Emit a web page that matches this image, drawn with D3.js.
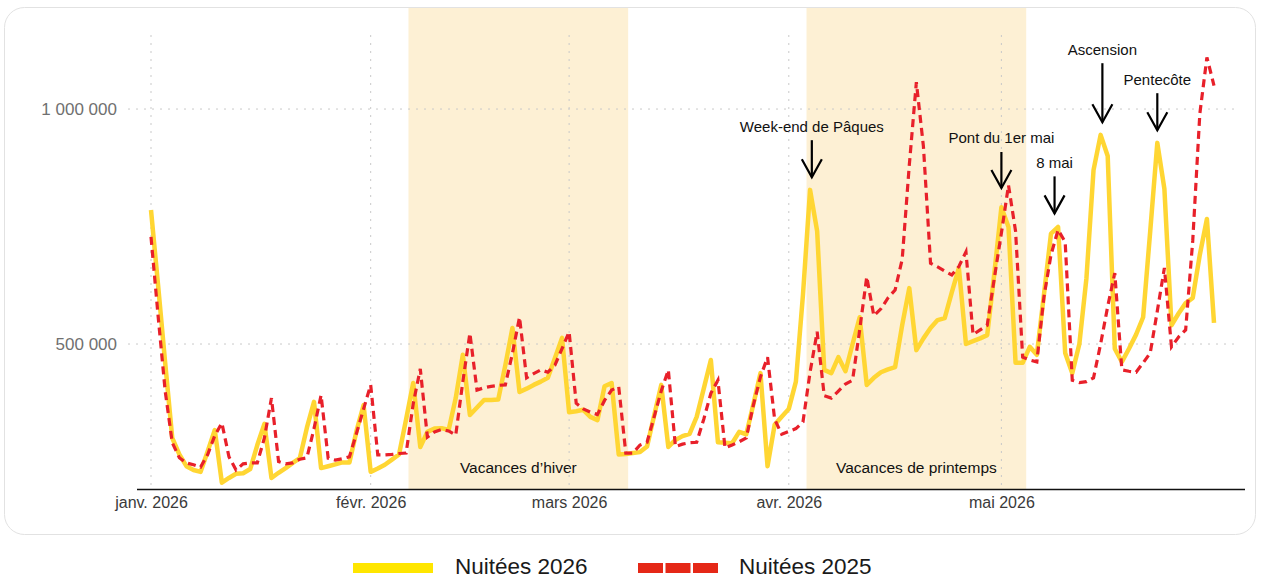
<!DOCTYPE html>
<html lang="fr">
<head>
<meta charset="UTF-8">
<script src="https://cdn.jsdelivr.net/npm/d3@7"></script>
<title>Nuitées 2026 vs 2025</title>
<style>
    body { margin: 0; background: #fff; font-family: "Liberation Sans", Arial, sans-serif; }
    .grid line { stroke: #c9c9c9; stroke-width: 1; stroke-dasharray: 2,6; }
</style>
</head>
<body>
<div id="chart"></div>
<script>
// nuitées journalières, en milliers, du 1er janvier au 31 mai
const nuitees2026 = [
    785, 625, 460, 300, 265, 240, 232, 228, 272, 317,
    205, 215, 224, 225, 234, 285, 330, 215, 226, 236,
    247, 257, 322, 377, 236, 240, 244, 248, 248, 315,
    370, 228, 235, 243, 254, 265, 340, 417, 281, 313,
    320, 321, 317, 385, 477, 349, 365, 381, 381, 382,
    455, 534, 398, 405, 413, 420, 428, 470, 513, 355,
    357, 360, 345, 338, 410, 417, 265, 266, 268, 270,
    282, 348, 413, 281, 296, 304, 309, 345, 405, 466,
    291, 290, 289, 313, 308, 372, 438, 240, 328, 345,
    362, 420, 605, 828, 740, 445, 438, 472, 442, 500,
    557, 413, 428, 440, 446, 451, 540, 619, 487, 512,
    534, 551, 555, 610, 662, 500, 506, 512, 519, 650,
    791, 749, 460, 460, 494, 477, 605, 735, 749, 481,
    438, 500, 640, 870, 945, 900, 490, 462, 490, 520,
    557, 740, 928, 830, 540, 565, 587, 598, 690, 766,
    545
];
const nuitees2025 = [
    728, 560, 400, 290, 258, 247, 243, 238, 265, 305,
    332, 260, 232, 245, 247, 247, 300, 385, 250, 245,
    247, 255, 258, 320, 391, 257, 253, 256, 260, 310,
    362, 413, 264, 264, 265, 267, 268, 373, 447, 302,
    313, 318, 315, 306, 420, 523, 402, 407, 410, 412,
    413, 480, 557, 428, 437, 445, 440, 455, 490, 526,
    374, 362, 355, 350, 380, 402, 409, 268, 268, 285,
    291, 345, 400, 445, 282, 287, 290, 291, 340, 395,
    423, 279, 285, 292, 300, 370, 430, 472, 340, 308,
    314, 320, 334, 440, 526, 390, 385, 400, 415, 423,
    530, 643, 560, 575, 598, 615, 680, 880, 1057, 920,
    672, 664, 655, 647, 665, 696, 520, 530, 540, 640,
    736, 838, 740, 472, 466, 462, 600, 690, 743, 717,
    423, 418, 420, 428, 500, 580, 651, 445, 442, 440,
    460, 481, 570, 662, 494, 515, 530, 720, 990, 1110,
    1050
];

const monthTicks = ["2026-01-01", "2026-02-01", "2026-03-01", "2026-04-01", "2026-05-01"];
const monthLabels = ["janv. 2026", "févr. 2026", "mars 2026", "avr. 2026", "mai 2026"];
const yTicks = [500000, 1000000];

const vacances = [
    { label: "Vacances d\u2019hiver", start: "2026-02-06T08:00Z", end: "2026-03-09T08:00Z" },
    { label: "Vacances de printemps", start: "2026-04-03T12:00Z", end: "2026-05-04T12:00Z" }
];

const annotations = [
    { label: "Week-end de Pâques", date: "2026-04-04T06:00Z", tip: 855000, len: 37 },
    { label: "Pont du 1er mai", date: "2026-05-01T00:00Z", tip: 832000, len: 36 },
    { label: "8 mai", date: "2026-05-08T12:00Z", tip: 778000, len: 37 },
    { label: "Ascension", date: "2026-05-15T06:00Z", tip: 972000, len: 59 },
    { label: "Pentecôte", date: "2026-05-23T00:00Z", tip: 955000, len: 37 }
];

const seriesNames = ["Nuitées 2026", "Nuitées 2025"];

const width = 1261, height = 579;
const start = new Date("2026-01-01T00:00Z");
const days = d3.utcDay.range(start, d3.utcDay.offset(start, nuitees2026.length));

const rows2026 = days.map((d, i) => ({ date: d, value: nuitees2026[i] * 1000 }));
const rows2025 = days.map((d, i) => ({ date: d, value: nuitees2025[i] * 1000 }));

const x = d3.scaleUtc()
    .domain([start, days[days.length - 1]])
    .range([151, 1214]);

const y = d3.scaleLinear()
    .domain([191500, 1215000])
    .range([489, 8]);

const svg = d3.select("#chart").append("svg")
    .attr("width", width)
    .attr("height", height);

// carte
svg.append("rect")
    .attr("x", 4.5).attr("y", 7.5)
    .attr("width", 1251).attr("height", 527)
    .attr("rx", 20)
    .attr("fill", "#fff")
    .attr("stroke", "#e2e2e2");

// périodes de vacances
svg.selectAll(".band")
    .data(vacances)
    .enter()
    .append("rect")
    .attr("class", "band")
    .attr("x", d => x(new Date(d.start)))
    .attr("width", d => x(new Date(d.end)) - x(new Date(d.start)))
    .attr("y", y.range()[1])
    .attr("height", y.range()[0] - y.range()[1])
    .attr("fill", "#fdf0d4");

svg.selectAll(".bandLabel")
    .data(vacances)
    .enter()
    .append("text")
    .attr("x", d => (x(new Date(d.start)) + x(new Date(d.end))) / 2)
    .attr("y", 473)
    .attr("text-anchor", "middle")
    .attr("font-size", 15.5)
    .attr("fill", "#111")
    .text(d => d.label);

// grille
const grid = svg.append("g").attr("class", "grid");
grid.selectAll(".hgrid")
    .data(yTicks)
    .enter()
    .append("line")
    .attr("x1", 128).attr("x2", 1234)
    .attr("y1", d => y(d)).attr("y2", d => y(d));
grid.selectAll(".vgrid")
    .data(monthTicks)
    .enter()
    .append("line")
    .attr("x1", d => x(new Date(d + "T00:00Z")))
    .attr("x2", d => x(new Date(d + "T00:00Z")))
    .attr("y1", 35).attr("y2", 489);

// axes
const frLocale = d3.formatLocale({ decimal: ",", thousands: "\u00a0", grouping: [3], currency: ["", " €"] });
const yAxis = d3.axisLeft(y)
    .tickValues(yTicks)
    .tickFormat(frLocale.format(",d"))
    .tickSize(0)
    .tickPadding(0);
svg.append("g")
    .attr("transform", "translate(117,0)")
    .call(yAxis)
    .call(g => g.select(".domain").remove())
    .selectAll("text")
    .attr("font-family", "'Liberation Sans', Arial, sans-serif")
    .attr("font-size", 17)
    .attr("fill", "#707070");

const xAxis = d3.axisBottom(x)
    .tickValues(monthTicks.map(d => new Date(d + "T00:00Z")))
    .tickFormat((d, i) => monthLabels[i])
    .tickSize(0)
    .tickPadding(8);
svg.append("g")
    .attr("transform", "translate(0,489)")
    .call(xAxis)
    .call(g => g.select(".domain").remove())
    .selectAll("text")
    .attr("font-family", "'Liberation Sans', Arial, sans-serif")
    .attr("font-size", 16)
    .attr("fill", "#3a3a3a");

svg.append("line")
    .attr("x1", 137).attr("x2", 1245)
    .attr("y1", 489.5).attr("y2", 489.5)
    .attr("stroke", "#111")
    .attr("stroke-width", 1.5);

// courbes
const line = d3.line()
    .x(d => x(d.date))
    .y(d => y(d.value));

svg.append("path")
    .datum(rows2026)
    .attr("d", line)
    .attr("fill", "none")
    .attr("stroke", "#ffd633")
    .attr("stroke-width", 4.5)
    .attr("stroke-linejoin", "round");

svg.append("path")
    .datum(rows2025)
    .attr("d", line)
    .attr("fill", "none")
    .attr("stroke", "#e8202a")
    .attr("stroke-width", 3.2)
    .attr("stroke-dasharray", "8,5");

// annotations
const ann = svg.selectAll(".ann")
    .data(annotations)
    .enter()
    .append("g")
    .attr("transform", d => `translate(${x(new Date(d.date))},${y(d.tip)})`);

ann.append("line")
    .attr("x1", 0).attr("x2", 0)
    .attr("y1", d => -d.len).attr("y2", 0)
    .attr("stroke", "#000").attr("stroke-width", 2.2);
ann.append("path")
    .attr("d", "M-10,-18L0,0L10,-18")
    .attr("fill", "none")
    .attr("stroke", "#000").attr("stroke-width", 2.2);
ann.append("text")
    .attr("y", d => -d.len - 8.5)
    .attr("text-anchor", "middle")
    .attr("font-size", 15)
    .attr("fill", "#111")
    .text(d => d.label);

// légende
const legend = svg.append("g");
legend.append("rect")
    .attr("x", 353).attr("y", 563)
    .attr("width", 80).attr("height", 10)
    .attr("fill", "#ffe600");
legend.append("text")
    .attr("x", 455).attr("y", 574)
    .attr("font-size", 22.5)
    .attr("fill", "#1a1a1a")
    .text(seriesNames[0]);
legend.selectAll(".dash")
    .data([0, 1, 2])
    .enter()
    .append("rect")
    .attr("x", d => 638 + d * 27.5)
    .attr("y", 563)
    .attr("width", 25).attr("height", 10)
    .attr("fill", "#e52817");
legend.append("text")
    .attr("x", 739).attr("y", 574)
    .attr("font-size", 22.5)
    .attr("fill", "#1a1a1a")
    .text(seriesNames[1]);
</script>
</body>
</html>
